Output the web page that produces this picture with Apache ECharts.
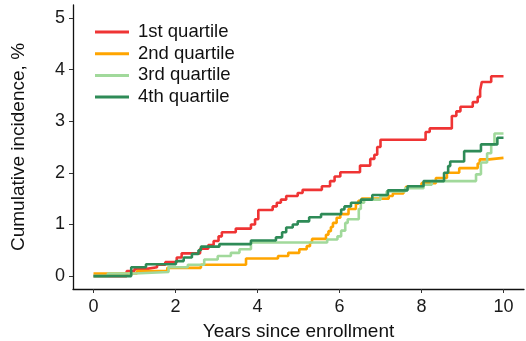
<!DOCTYPE html>
<html>
<head>
<meta charset="utf-8">
<script src="https://cdn.jsdelivr.net/npm/echarts@6/dist/echarts.min.js"></script>
<style>
html,body{margin:0;padding:0;background:#fff;}
#chart{width:526px;height:341px;}
</style>
</head>
<body>
<div id="chart"></div>
<script>
var seriesNames = ['1st quartile', '2nd quartile', '3rd quartile', '4th quartile'];
var seriesColors = ['#EF3434', '#FFA500', '#A1D99B', '#2E8B57'];

var q1x = [0, 0.81, 1.0, 1.3, 1.55, 1.75, 2.03, 2.15, 2.6, 2.8, 2.93, 3.05, 3.13, 3.47, 3.84, 3.94, 4.02, 4.37, 4.47, 4.57, 4.7, 4.98, 5.1, 5.57, 5.77, 5.88, 6.02, 6.5, 6.75, 6.85, 6.92, 7.0, 8.1, 8.2, 8.74, 8.85, 8.95, 9.25, 9.37, 9.43, 9.47, 9.7, 10];
var q1y = [0, 0.1, 0.14, 0.17, 0.22, 0.27, 0.36, 0.44, 0.53, 0.6, 0.68, 0.77, 0.85, 0.92, 1.0, 1.1, 1.28, 1.35, 1.42, 1.48, 1.55, 1.61, 1.67, 1.74, 1.84, 1.93, 2.01, 2.14, 2.27, 2.35, 2.5, 2.64, 2.79, 2.86, 3.1, 3.19, 3.28, 3.37, 3.47, 3.6, 3.76, 3.87, 3.87];

var q2x = [0, 1.06, 1.8, 2.62, 3.72, 4.5, 4.75, 5.02, 5.2, 5.28, 5.33, 5.67, 5.73, 5.79, 5.84, 5.93, 6.02, 6.22, 6.4, 6.46, 6.54, 7.2, 7.3, 7.56, 7.62, 8.0, 8.35, 8.62, 8.92, 9.37, 9.42, 9.65, 10];
var q2y = [0.05, 0.1, 0.16, 0.22, 0.34, 0.39, 0.45, 0.52, 0.58, 0.65, 0.72, 0.8, 0.87, 0.95, 1.03, 1.13, 1.2, 1.3, 1.4, 1.46, 1.5, 1.55, 1.6, 1.66, 1.73, 1.8, 1.9, 2.0, 2.09, 2.18, 2.26, 2.29, 2.29];

var q3x = [0, 0.35, 1.0, 1.83, 2.3, 2.7, 3.03, 3.35, 3.56, 3.84, 5.7, 5.95, 6.04, 6.14, 6.2, 6.47, 6.52, 6.6, 7.0, 7.15, 7.6, 8.05, 8.25, 9.33, 9.45, 9.6, 9.7, 9.78, 10];
var q3y = [0, 0.05, 0.08, 0.17, 0.22, 0.32, 0.39, 0.45, 0.52, 0.65, 0.71, 0.77, 0.88, 1.03, 1.1, 1.3, 1.42, 1.48, 1.55, 1.64, 1.7, 1.77, 1.84, 1.97, 2.2, 2.38, 2.55, 2.76, 2.76];

var q4x = [0, 0.92, 1.28, 2.01, 2.2, 2.4, 2.56, 2.62, 3.07, 3.84, 4.45, 4.6, 4.7, 4.86, 4.98, 5.26, 5.55, 6.04, 6.12, 6.28, 6.52, 6.8, 7.18, 7.66, 8.05, 8.55, 8.65, 8.7, 9.04, 9.45, 9.85, 10];
var q4y = [0, 0.17, 0.23, 0.29, 0.36, 0.43, 0.5, 0.57, 0.62, 0.69, 0.75, 0.85, 0.94, 1.0, 1.06, 1.14, 1.2, 1.29, 1.35, 1.42, 1.48, 1.57, 1.66, 1.74, 1.84, 2.0, 2.13, 2.22, 2.42, 2.55, 2.68, 2.68];

var xTicks = [0, 2, 4, 6, 8, 10];
var yTicks = [0, 1, 2, 3, 4, 5];

function pairs(xs, ys) {
  var out = [];
  for (var i = 0; i < xs.length; i++) out.push([xs[i], ys[i]]);
  return out;
}
var allX = [q1x, q2x, q3x, q4x];
var allY = [q1y, q2y, q3y, q4y];

var FONT = '"Liberation Sans", Arial, Helvetica, sans-serif';
var series = seriesNames.map(function (n, i) {
  return {
    name: n,
    type: 'line',
    step: 'end',
    symbol: 'none',
    data: pairs(allX[i], allY[i]),
    lineStyle: { color: seriesColors[i], width: 2.6 },
    itemStyle: { color: seriesColors[i] },
    animation: false,
    z: 2 + i
  };
});

var chart = echarts.init(document.getElementById('chart'), null, { renderer: 'canvas' });
chart.setOption({
  animation: false,
  backgroundColor: '#fff',
  grid: { left: 73, right: 2, top: 5, bottom: 52, containLabel: false, outerBoundsMode: 'none' },
  legend: {
    data: seriesNames,
    orient: 'vertical',
    left: 90,
    top: 17,
    icon: 'rect',
    itemWidth: 34,
    itemHeight: 3,
    itemGap: 1.7,
    textStyle: { fontFamily: FONT, fontSize: 18.5, color: '#111', lineHeight: 20, padding: [0, 0, 0, 4] }
  },
  xAxis: {
    type: 'value',
    min: -0.5,
    max: 10.5,
    name: 'Years since enrollment',
    nameLocation: 'middle',
    nameGap: 33,
    nameTextStyle: { fontFamily: FONT, fontSize: 19, color: '#111' },
    splitLine: { show: false },
    axisLine: { show: true, onZero: false, lineStyle: { color: '#111', width: 1.3 } },
    axisTick: { show: true, length: 4, customValues: xTicks, lineStyle: { color: '#333', width: 1 } },
    axisLabel: { customValues: xTicks, margin: 9, fontFamily: FONT, fontSize: 18, color: '#1a1a1a' }
  },
  yAxis: {
    type: 'value',
    min: -0.25,
    max: 5.25,
    name: 'Cumulative incidence, %',
    nameLocation: 'middle',
    nameGap: 45,
    nameTextStyle: { fontFamily: FONT, fontSize: 19, color: '#111' },
    splitLine: { show: false },
    axisLine: { show: true, onZero: false, lineStyle: { color: '#111', width: 1.3 } },
    axisTick: { show: true, length: 4, customValues: yTicks, lineStyle: { color: '#333', width: 1 } },
    axisLabel: { customValues: yTicks, margin: 8, fontFamily: FONT, fontSize: 18, color: '#1a1a1a' }
  },
  series: series
});
</script>
</body>
</html>
